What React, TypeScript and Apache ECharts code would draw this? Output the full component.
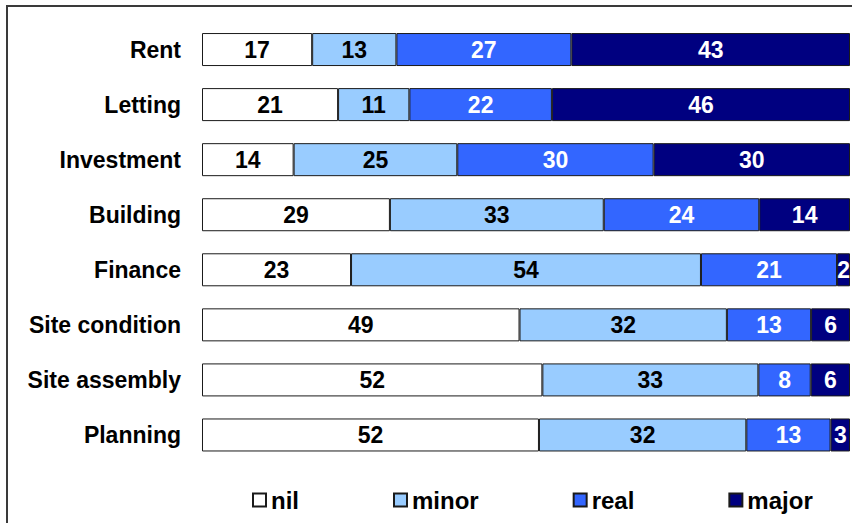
import React, { useEffect, useRef } from "react";
import * as echarts from "echarts";

// Obstacle categories, top to bottom
const categories = [
  "Rent",
  "Letting",
  "Investment",
  "Building",
  "Finance",
  "Site condition",
  "Site assembly",
  "Planning",
];

// Share of responses (%) by severity level
const nilValues = [17, 21, 14, 29, 23, 49, 52, 52];
const minorValues = [13, 11, 25, 33, 54, 32, 33, 32];
const realValues = [27, 22, 30, 24, 21, 13, 8, 13];
const majorValues = [43, 46, 30, 14, 2, 6, 6, 3];

const seriesNames = ["nil", "minor", "real", "major"];
const seriesColors = ["#FFFFFF", "#99CCFF", "#3366FF", "#000080"];
const labelColors = ["#000000", "#000000", "#FFFFFF", "#FFFFFF"];

const FONT = "'Liberation Sans', Arial, Helvetica, sans-serif";

export default function App() {
  const ref = useRef<HTMLDivElement>(null);

  useEffect(() => {
    if (!ref.current) return;
    const chart = echarts.init(ref.current, null, { renderer: "svg" });

    const allValues = [nilValues, minorValues, realValues, majorValues];
    // Each row is drawn as a 100% stacked bar
    const rowTotals = categories.map((_, i) =>
      allValues.reduce((s, arr) => s + arr[i], 0)
    );

    const series = allValues.map((vals, k) => ({
      name: seriesNames[k],
      type: "bar",
      stack: "total",
      barWidth: 33,
      data: vals.map((v, i) => ({ value: (v / rowTotals[i]) * 100, raw: v })),
      itemStyle: {
        color: seriesColors[k],
        borderColor: "#1a1a1a",
        borderWidth: 1,
      },
      label: {
        show: true,
        position: "inside",
        color: labelColors[k],
        fontFamily: FONT,
        fontWeight: "bold",
        fontSize: 23,
        formatter: (p: any) => String(p.data.raw),
      },
    }));

    chart.setOption({
      animation: false,
      backgroundColor: "#FFFFFF",
      grid: { left: 202, right: 3, top: 22, bottom: 60.5 },
      xAxis: {
        type: "value",
        min: 0,
        max: 100,
        show: false,
      },
      yAxis: {
        type: "category",
        data: categories,
        inverse: true,
        axisLine: { show: false },
        axisTick: { show: false },
        splitLine: { show: false },
        axisLabel: {
          margin: 21,
          color: "#000000",
          fontFamily: FONT,
          fontWeight: "bold",
          fontSize: 23,
        },
      },
      legend: {
        left: 247,
        top: 483,
        itemWidth: 13,
        itemHeight: 13,
        itemGap: 94,
        icon: "rect",
        data: seriesNames,
        textStyle: {
          color: "#000000",
          fontFamily: FONT,
          fontWeight: "bold",
          fontSize: 24,
          lineHeight: 24,
        },
      },
      graphic: [
        {
          type: "polyline",
          shape: {
            points: [
              [7, 523],
              [7, 6],
              [852, 6],
            ],
          },
          style: { stroke: "#3a3a3a", lineWidth: 2, fill: "none" },
        },
      ],
      series,
    });

    return () => chart.dispose();
  }, []);

  return (
    <div
      ref={ref}
      style={{ position: "absolute", left: 0, top: 0, width: 853, height: 523 }}
    />
  );
}
